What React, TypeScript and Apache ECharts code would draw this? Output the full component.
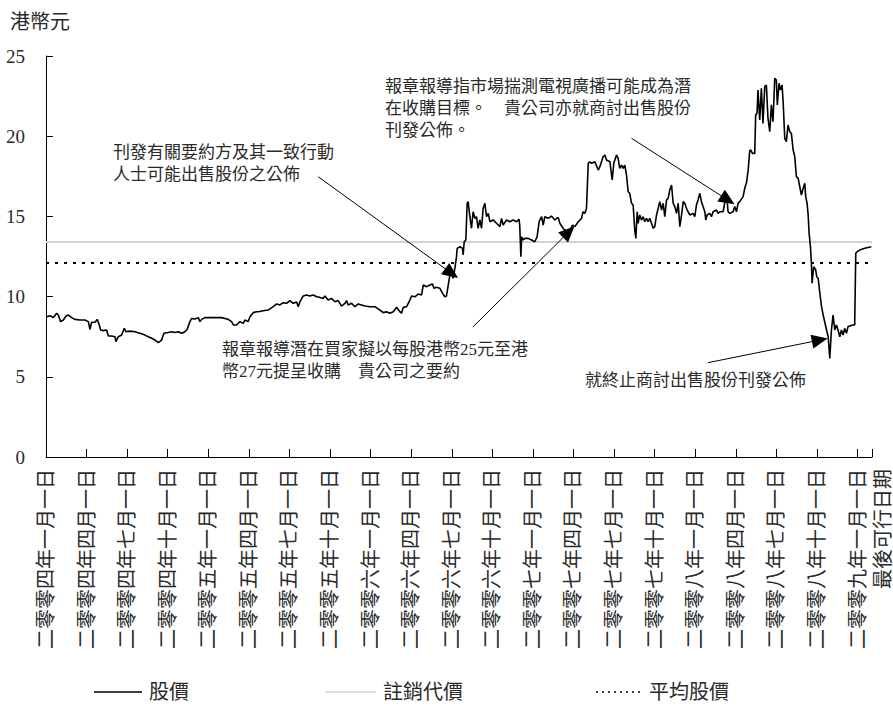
import React, { useEffect, useRef } from "react";
import * as echarts from "echarts";

// Axis categories (quarter starts) and the last practicable date
const quarterLabels = [
  "二零零四年一月一日", "二零零四年四月一日", "二零零四年七月一日", "二零零四年十月一日",
  "二零零五年一月一日", "二零零五年四月一日", "二零零五年七月一日", "二零零五年十月一日",
  "二零零六年一月一日", "二零零六年四月一日", "二零零六年七月一日", "二零零六年十月一日",
  "二零零七年一月一日", "二零零七年四月一日", "二零零七年七月一日", "二零零七年十月一日",
  "二零零八年一月一日", "二零零八年四月一日", "二零零八年七月一日", "二零零八年十月一日",
  "二零零九年一月一日",
];
const lastDateLabel = "最後可行日期";
const lastDateMonth = 61.07; // months since 1 Jan 2004

// Share price (HK$); time in months since 1 Jan 2004
const priceMonths = [
  0.05, 0.30, 0.54, 0.79, 0.91, 1.08, 1.28, 1.48, 1.65, 1.90, 2.14, 2.51, 2.88, 3.13, 3.25, 3.37, 3.62, 3.79, 3.94, 4.04,
  4.24, 4.48, 4.61, 4.85, 5.10, 5.17, 5.35, 5.59, 5.79, 5.91, 6.21, 6.58, 6.95, 7.32, 7.56, 7.81, 8.06, 8.30, 8.55, 8.72,
  9.04, 9.29, 9.53, 9.78, 10.03, 10.27, 10.44, 10.64, 10.77, 11.01, 11.26, 11.38, 11.51, 11.75, 12.12, 12.49, 12.99, 13.23, 13.47, 13.72,
  13.85, 14.09, 14.34, 14.58, 14.71, 14.95, 15.08, 15.32, 15.57,
  15.69, 16.06, 16.43, 16.80, 17.05, 17.30, 17.54, 17.79, 18.03, 18.28, 18.53, 18.65, 18.77, 19.02, 19.27, 19.51, 19.76, 20.01, 20.25, 20.50,
  20.62, 20.86, 21.11, 21.36, 21.60, 21.85, 22.10, 22.22, 22.34, 22.59, 22.84, 23.08, 23.33, 23.58, 23.95, 24.32, 24.69, 24.93, 25.18, 25.42,
  25.67, 25.92, 26.16, 26.29, 26.41, 26.66, 26.85, 27.03, 27.27, 27.52, 27.77, 27.89, 28.14, 28.38, 28.58, 28.68, 28.88, 29.12, 29.32, 29.49,
  29.61, 29.74, 29.86, 29.98, 30.10, 30.23, 30.35, 30.40, 30.60, 30.80, 30.84, 30.92, 31.04, 31.14, 31.21,
  31.34, 31.46, 31.58, 31.71, 31.83, 31.95, 32.08, 32.20, 32.32, 32.45, 32.57, 32.70, 32.82, 33.06, 33.31, 33.56, 33.68, 33.80, 34.05, 34.29,
  34.54, 34.79, 34.98, 35.03, 35.11, 35.17, 35.28, 35.40, 35.65, 35.90, 36.14, 36.31, 36.46, 36.64, 36.76, 36.88, 37.13, 37.37, 37.62, 37.87,
  37.99, 38.23, 38.48, 38.73, 38.93, 39.10, 39.35, 39.59, 39.71, 39.84, 39.96, 40.09, 40.21, 40.33, 40.58, 40.83, 40.95, 41.19, 41.32, 41.44,
  41.69, 41.86, 41.98, 42.18, 42.30, 42.42, 42.55, 42.67, 42.79, 42.92, 43.04, 43.16, 43.29, 43.41, 43.53, 43.61, 43.71,
  43.78, 43.90, 44.03, 44.15, 44.27, 44.40, 44.52, 44.64, 44.77, 44.89, 45.01, 45.14, 45.26, 45.38, 45.51, 45.63, 45.75, 45.88, 46.00, 46.12,
  46.25, 46.37, 46.49, 46.62, 46.74, 46.86, 46.99, 47.11, 47.23, 47.35, 47.47, 47.60, 47.84, 47.97, 48.09, 48.21, 48.34, 48.46, 48.58, 48.71,
  48.78, 48.88, 49.08, 49.20, 49.32, 49.57, 49.69, 49.82, 50.06, 50.31, 50.43, 50.55, 50.80, 50.92, 51.05, 51.17, 51.29, 51.54, 51.66, 51.79,
  51.91, 52.03, 52.11, 52.23, 52.40, 52.47, 52.57, 52.64, 52.77, 52.89, 53.01, 53.14, 53.26, 53.38, 53.51, 53.63, 53.75, 53.88, 54.00, 54.07,
  54.20, 54.30, 54.42, 54.50, 54.62, 54.74, 54.86, 54.99, 55.11, 55.24, 55.36, 55.48, 55.61, 55.73, 55.85, 55.98, 56.10, 56.17, 56.27, 56.35,
  56.42, 56.52, 56.59, 56.64, 56.76, 56.91, 56.98, 57.09, 57.21, 57.34, 57.46, 57.58, 57.71, 57.83, 57.95, 58.07, 58.19, 58.32, 58.44, 58.56,
  58.69, 58.81, 58.93, 59.05, 59.18, 59.30, 59.42, 59.66, 59.79, 59.87, 59.97, 60.16, 60.53, 61.02,
];
const prices = [
  8.75, 8.81, 8.69, 8.96, 8.85, 8.44, 8.54, 8.79, 8.85, 8.69, 8.58, 8.54, 8.54, 8.44, 7.96, 8.40, 8.40, 8.58, 8.23, 7.92,
  7.88, 7.92, 7.54, 7.54, 7.50, 7.19, 7.50, 7.61, 8.02, 7.81, 7.85, 7.81, 7.71, 7.60, 7.50, 7.40, 7.29, 7.13, 7.29, 7.71,
  7.76, 7.81, 7.76, 7.81, 7.71, 7.81, 7.96, 8.44, 8.64, 8.60, 8.69, 8.44, 8.58, 8.69, 8.69, 8.69, 8.69, 8.64, 8.58, 8.44,
  8.23, 8.23, 8.44, 8.33, 8.54, 8.44, 8.75, 9.00, 9.06,
  9.06, 9.12, 9.16, 9.37, 9.54, 9.48, 9.62, 9.58, 9.75, 9.58, 9.67, 9.37, 9.67, 10.04, 10.10, 10.04, 10.10, 9.99, 9.95, 9.89,
  10.04, 9.79, 9.89, 9.68, 9.75, 9.41, 9.58, 9.75, 9.48, 9.58, 9.37, 9.54, 9.48, 9.41, 9.37, 9.37, 9.16, 9.00, 9.06, 8.96,
  9.06, 9.33, 9.06, 8.96, 9.33, 9.37, 9.68, 10.04, 9.99, 10.16, 10.10, 10.72, 10.62, 10.72, 10.79, 10.52, 10.58, 10.52, 10.20, 9.99,
  10.04, 10.72, 11.35, 11.55, 11.14, 11.76, 12.49, 13.01, 13.11, 13.01, 12.59, 13.42, 13.53, 15.82, 15.92,
  14.98, 14.26, 15.29, 14.88, 14.98, 14.26, 14.78, 14.26, 15.50, 15.82, 14.98, 15.19, 14.67, 14.78, 14.57, 14.36, 14.88, 14.46, 14.78, 14.67,
  14.78, 14.67, 14.82, 14.36, 12.49, 13.73, 13.53, 13.63, 13.63, 13.53, 13.42, 13.73, 14.67, 14.98, 14.46, 14.98, 14.88, 15.02, 14.78, 14.94,
  14.57, 14.26, 14.05, 14.15, 14.46, 14.36, 14.67, 14.88, 15.29, 15.19, 15.50, 18.31, 18.41, 18.31, 18.41, 17.89, 18.10, 18.72, 18.83, 18.52,
  18.41, 17.27, 18.31, 18.83, 18.62, 18.00, 18.20, 18.00, 18.20, 17.58, 16.54, 16.44, 15.82, 15.71, 14.15, 13.63, 15.29,
  14.57, 15.09, 14.77, 14.98, 14.67, 14.88, 14.67, 14.88, 14.57, 14.26, 14.36, 15.09, 15.50, 15.92, 15.40, 15.82, 14.98, 16.02, 16.13, 16.65,
  16.96, 15.82, 15.61, 15.19, 15.82, 14.36, 15.09, 15.92, 15.82, 15.50, 15.29, 15.09, 15.19, 14.98, 15.71, 16.02, 16.44, 15.92, 15.61, 15.29,
  14.78, 15.09, 15.19, 14.98, 15.29, 15.40, 15.19, 15.29, 15.29, 16.44, 15.29, 15.19, 15.29, 15.61, 15.29, 15.82, 15.92, 16.23, 16.75, 17.10,
  17.85, 19.10, 19.14, 18.93, 18.93, 21.32, 21.43, 22.88, 21.01, 22.99, 20.80, 23.09, 23.19, 21.12, 20.28, 21.95, 20.90, 23.61, 23.50, 21.95,
  23.30, 22.88, 23.19, 22.15, 19.87, 19.66, 20.70, 20.28, 20.18, 19.14, 18.72, 17.48, 17.37, 16.85, 16.33, 16.75, 17.06, 16.23, 15.82, 15.09,
  13.95, 13.11, 12.08, 10.83, 11.86, 11.66, 11.24, 11.14, 10.25, 9.37, 8.85, 8.40, 7.92, 7.50, 6.15, 7.92, 8.85, 7.92, 8.23, 7.92,
  7.50, 7.92, 7.60, 8.02, 7.71, 8.13, 8.17, 8.23, 8.23, 12.70, 12.80, 12.90, 13.01, 13.11,
];
const cancellationPrice = 13.4;
const averagePrice = 12.1;

// Legend entries
const legendNames = ["股價", "註銷代價", "平均股價"];

// Annotations: text and arrow (from -> to, in [month, HK$])
const annotationTexts = [
  "刊發有關要約方及其一致行動\n人士可能出售股份之公佈",
  "報章報導潛在買家擬以每股港幣25元至港\n幣27元提呈收購　貴公司之要約",
  "報章報導指市場揣測電視廣播可能成為潛\n在收購目標。　貴公司亦就商討出售股份\n刊發公佈。",
  "就終止商討出售股份刊發公佈",
];
const arrowFrom = [[20.13, 17.47], [31.58, 8.12], [43.29, 19.87], [48.95, 5.88]];
const arrowTo = [[29.99, 11.45], [38.65, 14.03], [50.41, 16.02], [57.21, 7.29]];

const FONT = "'Liberation Serif', 'Noto Sans CJK TC', serif";
const TEXT_COLOR = "#2a2a2a";
const GREY = "#d2d2d2";

export default function App() {
  const ref = useRef<HTMLDivElement>(null);
  useEffect(() => {
    document.body.style.margin = "0";
    if (!ref.current) return;
    const chart = echarts.init(ref.current, undefined, { renderer: "svg" });
    const priceData = priceMonths.map((m, i) => [m, prices[i]]);
    const textPos = [
      { left: 113, top: 141 },
      { left: 222, top: 338 },
      { left: 385, top: 75 },
      { left: 585, top: 369 },
    ];
    const legendItems = [
      { x: 94, len: 48, textX: 149, stroke: "#000", dash: null as number[] | null, width: 1.5 },
      { x: 325, len: 51, textX: 383, stroke: GREY, dash: null, width: 1.5 },
      { x: 596, len: 48, textX: 649, stroke: "#000", dash: [2, 4], width: 1.5 },
    ];
    const legendY = 692;
    const legendGraphics: any[] = [];
    legendItems.forEach((it, i) => {
      legendGraphics.push({
        type: "line",
        shape: { x1: it.x, y1: legendY, x2: it.x + it.len, y2: legendY },
        style: { stroke: it.stroke, lineWidth: it.width, lineDash: it.dash || undefined },
      });
      legendGraphics.push({
        type: "text",
        x: it.textX,
        y: legendY,
        style: {
          text: legendNames[i],
          fontFamily: FONT,
          fontSize: 20,
          fill: TEXT_COLOR,
          verticalAlign: "middle",
        },
      });
    });
    chart.setOption({
      animation: false,
      backgroundColor: "#fff",
      grid: { left: 46, right: 20, top: 56, bottom: 256, containLabel: false },
      xAxis: {
        type: "value",
        min: 0,
        max: lastDateMonth,
        interval: 3,
        axisLine: { show: true, lineStyle: { color: "#000", width: 1 } },
        axisTick: { show: true, inside: true, length: 8, lineStyle: { color: "#000" } },
        splitLine: { show: false },
        axisLabel: {
          rotate: 90,
          margin: 12,
          fontFamily: FONT,
          fontSize: 20,
          color: TEXT_COLOR,
          showMinLabel: true,
          showMaxLabel: true,
          formatter: (v: number) =>
            Math.abs(v - lastDateMonth) < 1e-6
              ? "{last|" + lastDateLabel + "}"
              : quarterLabels[Math.round(v / 3)] ?? "",
          rich: {
            last: { fontFamily: FONT, fontSize: 20, color: TEXT_COLOR, padding: [22, 0, 0, 0] },
          },
        },
      },
      yAxis: {
        type: "value",
        min: 0,
        max: 25,
        interval: 5,
        axisLine: { show: true, lineStyle: { color: "#000", width: 1 } },
        axisTick: { show: true, inside: true, length: 7, lineStyle: { color: "#000" } },
        splitLine: { show: false },
        axisLabel: { margin: 21, fontFamily: FONT, fontSize: 19, color: TEXT_COLOR },
      },
      legend: { show: false, data: legendNames },
      graphic: [
        {
          type: "text",
          left: 10,
          top: 12,
          style: { text: "港幣元", fontFamily: FONT, fontSize: 20, fill: TEXT_COLOR },
        },
        ...annotationTexts.map((t, i) => ({
          type: "text",
          left: textPos[i].left,
          top: textPos[i].top,
          style: { text: t, fontFamily: FONT, fontSize: 17, lineHeight: 22, fill: TEXT_COLOR },
        })),
        ...legendGraphics,
      ],
      series: [
        {
          name: legendNames[1],
          type: "line",
          data: [[0, cancellationPrice], [lastDateMonth, cancellationPrice]],
          showSymbol: false,
          symbol: "none",
          lineStyle: { color: GREY, width: 2 },
          itemStyle: { color: GREY },
          z: 1,
        },
        {
          name: legendNames[2],
          type: "line",
          data: [[0, averagePrice], [lastDateMonth, averagePrice]],
          showSymbol: false,
          symbol: "none",
          lineStyle: { color: "#000", width: 2, type: [3, 6] },
          itemStyle: { color: "#000" },
          z: 2,
        },
        {
          name: legendNames[0],
          type: "line",
          data: priceData,
          showSymbol: false,
          symbol: "none",
          lineStyle: { color: "#000", width: 1.6 },
          itemStyle: { color: "#000" },
          z: 3,
          markLine: {
            silent: true,
            symbol: ["none", "triangle"],
            symbolSize: [14, 16],
            label: { show: false },
            lineStyle: { color: "#000", width: 1, type: "solid" },
            data: arrowFrom.map((f, i) => [{ coord: f }, { coord: arrowTo[i] }]),
          },
        },
      ],
    });
    return () => chart.dispose();
  }, []);
  return <div ref={ref} style={{ width: 893, height: 713 }} />;
}
